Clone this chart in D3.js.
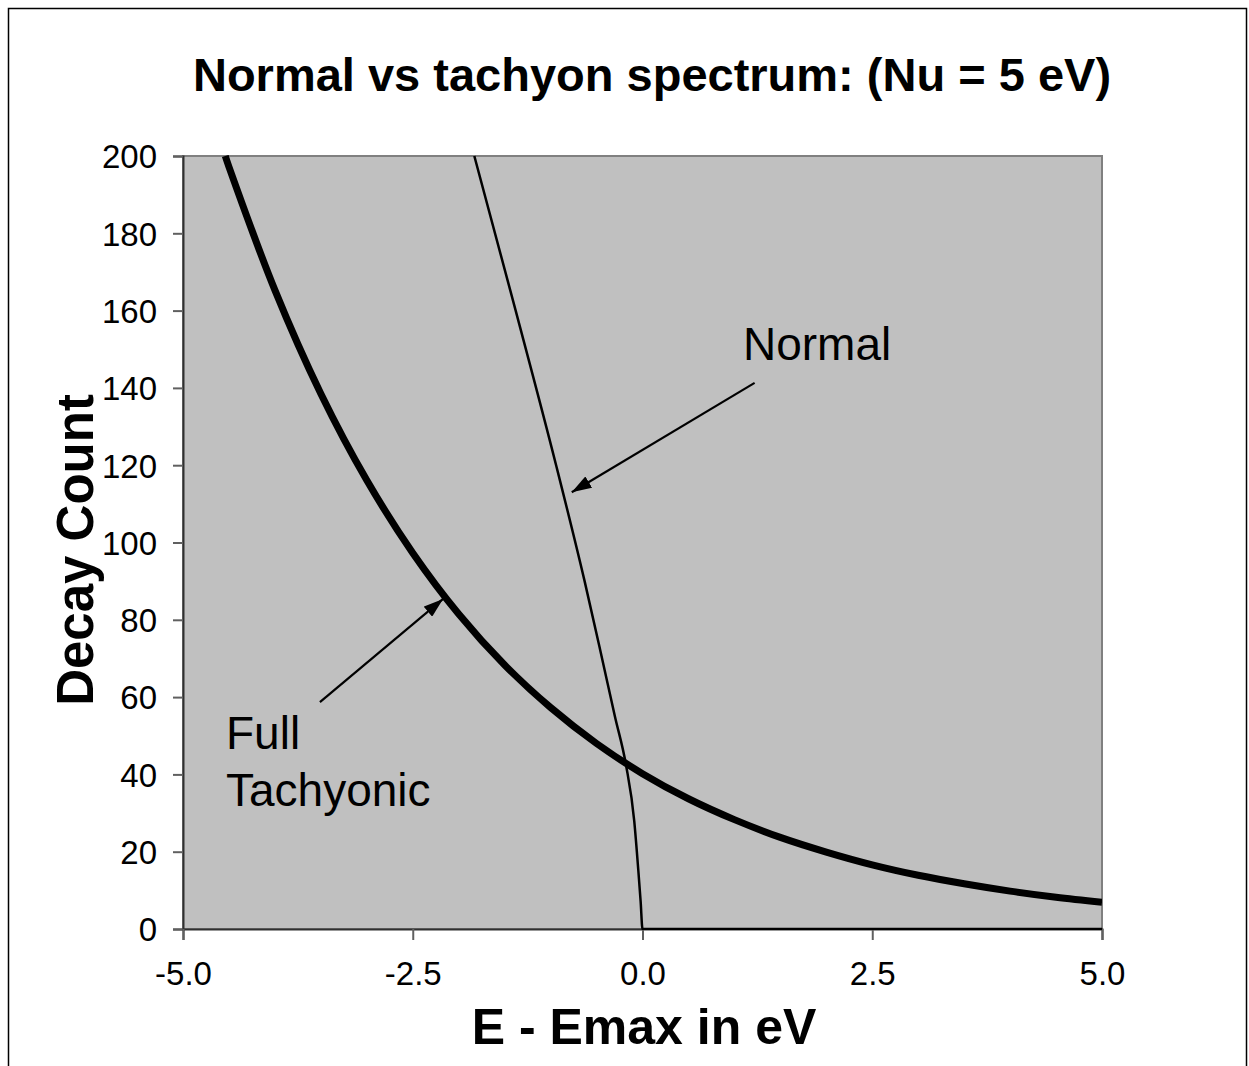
<!DOCTYPE html>
<html>
<head>
<meta charset="utf-8">
<script src="https://cdn.jsdelivr.net/npm/d3@7"></script>
<style>
    body { margin: 0; background: #ffffff; }
    svg text { font-family: Arial, "Liberation Sans", sans-serif; fill: #000000; }
</style>
</head>
<body>
<div id="chart"></div>
<script>
var xTicks = [-5.0, -2.5, 0.0, 2.5, 5.0];
var yTicks = [0, 20, 40, 60, 80, 100, 120, 140, 160, 180, 200];

// Full Tachyonic
var tachE = [-4.54, -4.5, -4.0, -3.5, -3.0, -2.5, -2.0, -1.5, -1.0, -0.5, 0.0, 0.5, 1.0, 1.5, 2.0, 2.5, 3.0, 3.5, 4.0, 4.5, 5.0];
var tachCount = [200, 197.2, 165.3, 138.5, 116.1, 97.3, 81.5, 68.3, 57.3, 48.0, 40.2, 33.7, 28.3, 23.7, 19.9, 16.6, 13.9, 11.7, 9.8, 8.2, 6.9];

// Normal
var normE = [-1.83, -1.38, -0.94, -0.63, -0.44, -0.30, -0.18, -0.09, -0.045, -0.02, 0.0, 5.0];
var normCount = [200, 160, 120, 90, 70, 55, 42.5, 28, 15, 7, 0, 0];

var title = "Normal vs tachyon spectrum: (Nu = 5 eV)";
var xTitle = "E - Emax in eV";
var yTitle = "Decay Count";

(function () {
    var W = 1249, H = 1066;
    var plot = { left: 183, top: 156, right: 1102, bottom: 929 };

    var svg = d3.select("#chart").append("svg")
        .attr("width", W)
        .attr("height", H);

    var defs = svg.append("defs");

    // внешняя рамка, нижний край уходит за картинку
    svg.append("rect")
        .attr("x", 8.5).attr("y", 8.5)
        .attr("width", 1238).attr("height", 1100)
        .attr("fill", "#ffffff")
        .attr("stroke", "#000000")
        .attr("stroke-width", 1.5);

    var x = d3.scaleLinear().domain([-5, 5]).range([plot.left, plot.right]);
    var y = d3.scaleLinear().domain([0, 200]).range([plot.bottom, plot.top]);

    // серое поле графика
    svg.append("rect")
        .attr("x", plot.left).attr("y", plot.top)
        .attr("width", plot.right - plot.left)
        .attr("height", plot.bottom - plot.top)
        .attr("fill", "#c0c0c0")
        .attr("stroke", "#808080")
        .attr("stroke-width", 2);

    defs.append("clipPath").attr("id", "clip")
        .append("rect")
        .attr("x", plot.left).attr("y", plot.top - 1)
        .attr("width", plot.right - plot.left)
        .attr("height", plot.bottom - plot.top + 2);

    // подписи с обычным дефисом вместо юникодного минуса
    var fmtX = function (d) { return d3.format(".1f")(d).replace("\u2212", "-"); };

    var yAxis = d3.axisLeft(y).tickValues(yTicks).tickSize(10).tickPadding(16)
        .tickFormat(d3.format("d"));
    var gy = svg.append("g").attr("transform", "translate(" + plot.left + ",0)").call(yAxis);

    var xAxis = d3.axisBottom(x).tickValues(xTicks).tickSize(11).tickPadding(22)
        .tickFormat(fmtX);
    var gx = svg.append("g").attr("transform", "translate(0," + plot.bottom + ")").call(xAxis);

    [gx, gy].forEach(function (g) {
        g.select(".domain").attr("stroke", "#303030").attr("stroke-width", 2);
        g.selectAll(".tick line").attr("stroke", "#606060").attr("stroke-width", 2);
        g.selectAll(".tick text")
            .attr("font-size", 33)
            .attr("font-family", "Arial, 'Liberation Sans', sans-serif")
            .attr("fill", "#000000");
    });
    gy.selectAll(".tick text").attr("dy", "0.36em");
    gx.selectAll(".tick text").attr("dy", "0.71em");

    var lineGen = d3.line()
        .x(function (d) { return x(d[0]); })
        .y(function (d) { return y(d[1]); })
        .curve(d3.curveMonotoneX);

    var curves = svg.append("g").attr("clip-path", "url(#clip)");

    curves.append("path")
        .datum(d3.zip(normE, normCount))
        .attr("d", lineGen)
        .attr("fill", "none")
        .attr("stroke", "#000000")
        .attr("stroke-width", 2.5);

    curves.append("path")
        .datum(d3.zip(tachE, tachCount))
        .attr("d", lineGen.curve(d3.curveCatmullRom))
        .attr("fill", "none")
        .attr("stroke", "#000000")
        .attr("stroke-width", 7);

    // стрелки-подписи
    defs.append("marker")
        .attr("id", "arrow")
        .attr("viewBox", "0 0 12 8")
        .attr("refX", 12).attr("refY", 4)
        .attr("markerWidth", 9).attr("markerHeight", 6)
        .attr("markerUnits", "strokeWidth")
        .attr("orient", "auto")
        .append("path")
        .attr("d", "M0,0 L12,4 L0,8 Z")
        .attr("fill", "#000000");

    var arrows = [
        { from: [1.22, 141.3], to: [-0.77, 113] },
        { from: [-3.51, 58.7], to: [-2.17, 85.4] }
    ];
    svg.selectAll(".arrow").data(arrows).enter().append("line")
        .attr("class", "arrow")
        .attr("x1", function (d) { return x(d.from[0]); })
        .attr("y1", function (d) { return y(d.from[1]); })
        .attr("x2", function (d) { return x(d.to[0]); })
        .attr("y2", function (d) { return y(d.to[1]); })
        .attr("stroke", "#000000")
        .attr("stroke-width", 2.2)
        .attr("marker-end", "url(#arrow)");

    svg.append("text")
        .attr("x", 743).attr("y", 360)
        .attr("font-size", 46)
        .text("Normal");

    var full = svg.append("text")
        .attr("x", 226).attr("y", 749)
        .attr("font-size", 46);
    full.append("tspan").attr("x", 226).text("Full");
    full.append("tspan").attr("x", 226).attr("dy", 57).text("Tachyonic");

    // заголовки
    svg.append("text")
        .attr("x", 652).attr("y", 91)
        .attr("text-anchor", "middle")
        .attr("font-size", 47)
        .attr("font-weight", "bold")
        .text(title);

    svg.append("text")
        .attr("x", 644).attr("y", 1044)
        .attr("text-anchor", "middle")
        .attr("font-size", 50)
        .attr("font-weight", "bold")
        .text(xTitle);

    svg.append("text")
        .attr("transform", "translate(93,550) rotate(-90)")
        .attr("text-anchor", "middle")
        .attr("font-size", 51)
        .attr("font-weight", "bold")
        .text(yTitle);
}());
</script>
</body>
</html>
